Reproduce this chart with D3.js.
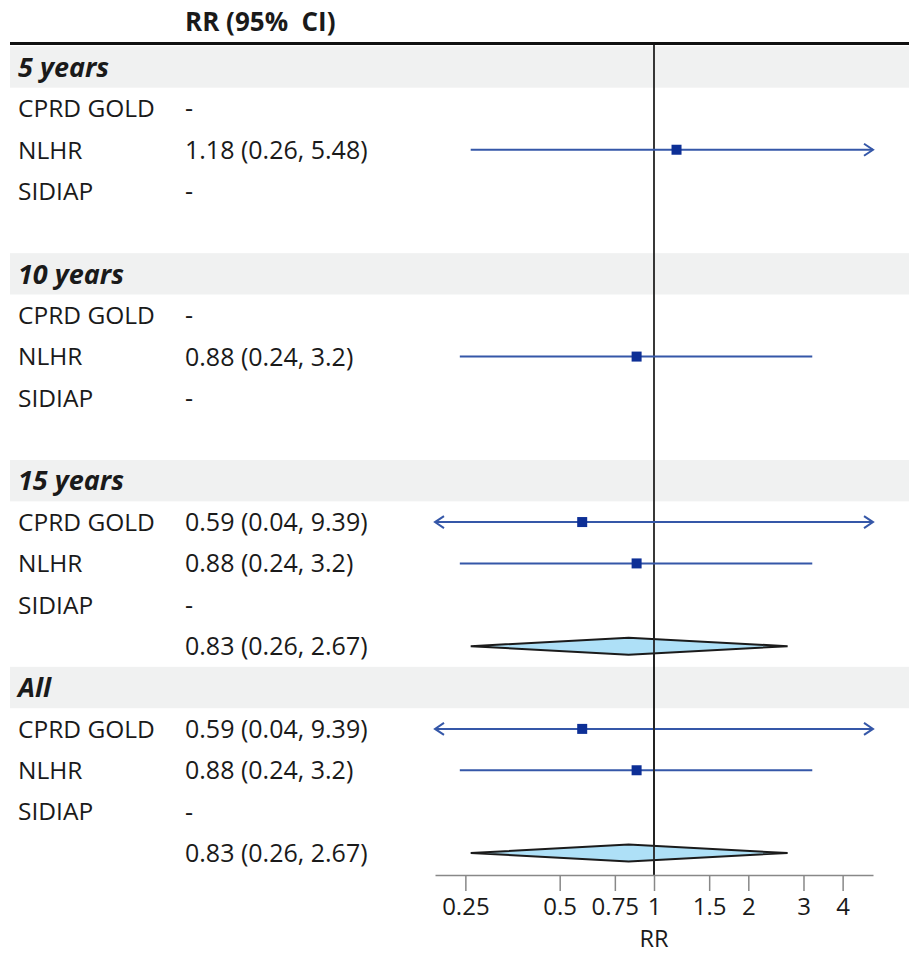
<!DOCTYPE html>
<html><head><meta charset="utf-8">
<script src="https://cdn.jsdelivr.net/npm/d3@7"></script>
<style>body{margin:0;background:#fff}svg{display:block}</style>
</head><body><div id="chart"></div>
<script>
const groupNames = ["5 years", "10 years", "15 years", "All"];
const studyNames = ["CPRD GOLD", "NLHR", "SIDIAP"];
const rrEst   = [[null, 1.18, null], [null, 0.88, null], [0.59, 0.88, null], [0.59, 0.88, null]];
const rrLower = [[null, 0.26, null], [null, 0.24, null], [0.04, 0.24, null], [0.04, 0.24, null]];
const rrUpper = [[null, 5.48, null], [null, 3.2, null], [9.39, 3.2, null], [9.39, 3.2, null]];
const pooledEst   = [null, null, 0.83, 0.83];
const pooledLower = [null, null, 0.26, 0.26];
const pooledUpper = [null, null, 2.67, 2.67];
const tickValues = [0.25, 0.5, 0.75, 1, 1.5, 2, 3, 4];
const axisDomain = [0.2, 5];

const W = 909, H = 955;
const FONT = "'Open Sans', sans-serif";
const svg = d3.select("#chart").append("svg").attr("width", W).attr("height", H)
  .style("font-family", FONT);

const x = d3.scaleLog().domain(axisDomain).range([435, 873]);
const y = d3.scaleLinear().domain([0, 19]).range([67, 853]);

// build rows
const rows = [];
groupNames.forEach((g, gi) => {
  rows.push({type: "group", label: g});
  studyNames.forEach((s, si) => {
    rows.push({type: "study", label: s, est: rrEst[gi][si], lo: rrLower[gi][si], hi: rrUpper[gi][si]});
  });
  if (pooledEst[gi] != null) rows.push({type: "pooled", est: pooledEst[gi], lo: pooledLower[gi], hi: pooledUpper[gi]});
  else rows.push({type: "blank"});
});
rows.forEach((r, i) => r.i = i);

const rowH = y(1) - y(0);
const textColor = "#1a1a1a";

// group bands
svg.selectAll("rect.band").data(rows.filter(r => r.type === "group")).join("rect")
  .attr("x", 10).attr("width", W - 10)
  .attr("y", r => y(r.i) - rowH / 2).attr("height", rowH)
  .attr("fill", "#f0f1f1");

// header
svg.append("text").attr("x", 185).attr("y", 31).text("RR (95%  CI)")
  .attr("font-size", 26).attr("font-weight", "bold").attr("fill", textColor)
  .style("white-space", "pre").attr("xml:space", "preserve");
svg.append("line").attr("x1", 10).attr("x2", W).attr("y1", 43.5).attr("y2", 43.5)
  .attr("stroke", "#111").attr("stroke-width", 3);

// labels
svg.selectAll("text.lab").data(rows.filter(r => r.type === "group" || r.type === "study")).join("text")
  .attr("x", 18).attr("y", r => y(r.i)).attr("dy", "0.36em")
  .attr("font-size", r => r.type === "group" ? 27 : 24.5)
  .attr("font-weight", r => r.type === "group" ? "bold" : "normal")
  .attr("font-style", r => r.type === "group" ? "italic" : "normal")
  .attr("fill", textColor).text(r => r.label);

// value text
svg.selectAll("text.val").data(rows.filter(r => r.type === "study" || r.type === "pooled")).join("text")
  .attr("x", 185).attr("y", r => y(r.i)).attr("dy", "0.36em")
  .attr("font-size", 25).attr("fill", textColor)
  .text(r => r.est == null ? "-" : `${r.est} (${r.lo}, ${r.hi})`);

// reference line
svg.append("line").attr("x1", x(1)).attr("x2", x(1)).attr("y1", 45).attr("y2", 875)
  .attr("stroke", "#222").attr("stroke-width", 1.8);

// CIs
const ciColor = "#3557a8", sqColor = "#0d2f96";
const studies = rows.filter(r => r.type === "study" && r.est != null);
const [dmin, dmax] = axisDomain;
studies.forEach(r => {
  const x1 = x(Math.max(r.lo, dmin)), x2 = x(Math.min(r.hi, dmax)), cy = y(r.i);
  svg.append("line").attr("x1", x1).attr("x2", x2).attr("y1", cy).attr("y2", cy)
    .attr("stroke", ciColor).attr("stroke-width", 2);
  if (r.lo < dmin) svg.append("path").attr("d", `M${x1 + 9},${cy - 6}L${x1},${cy}L${x1 + 9},${cy + 6}`)
    .attr("fill", "none").attr("stroke", ciColor).attr("stroke-width", 2);
  if (r.hi > dmax) svg.append("path").attr("d", `M${x2 - 9},${cy - 6}L${x2},${cy}L${x2 - 9},${cy + 6}`)
    .attr("fill", "none").attr("stroke", ciColor).attr("stroke-width", 2);
  svg.append("rect").attr("x", x(r.est) - 5).attr("y", cy - 5).attr("width", 10).attr("height", 10)
    .attr("fill", sqColor);
});

// pooled diamonds
rows.filter(r => r.type === "pooled").forEach(r => {
  const cy = y(r.i);
  svg.append("path")
    .attr("d", `M${x(r.lo)},${cy}L${x(r.est)},${cy - 8.5}L${x(r.hi)},${cy}L${x(r.est)},${cy + 8.5}Z`)
    .attr("fill", "#aee0f7").attr("stroke", "#1b1b1b").attr("stroke-width", 2);
});
// redraw ref line over diamonds
svg.append("line").attr("x1", x(1)).attr("x2", x(1)).attr("y1", 620).attr("y2", 875)
  .attr("stroke", "#222").attr("stroke-width", 1.8);

// axis
const axis = d3.axisBottom(x).tickValues(tickValues).tickFormat(d => String(d)).tickSize(16).tickPadding(7).tickSizeOuter(0);
const ag = svg.append("g").attr("transform", "translate(0,875)").call(axis);
ag.select(".domain").attr("stroke", "#888").attr("stroke-width", 1.5);
ag.selectAll(".tick line").attr("stroke", "#888").attr("stroke-width", 1.5);
ag.selectAll(".tick text").attr("font-size", 24).attr("font-family", FONT).attr("fill", textColor);
svg.append("text").attr("x", x(1)).attr("y", 947).attr("text-anchor", "middle")
  .attr("font-size", 23.5).attr("fill", textColor).text("RR");
</script></body></html>
